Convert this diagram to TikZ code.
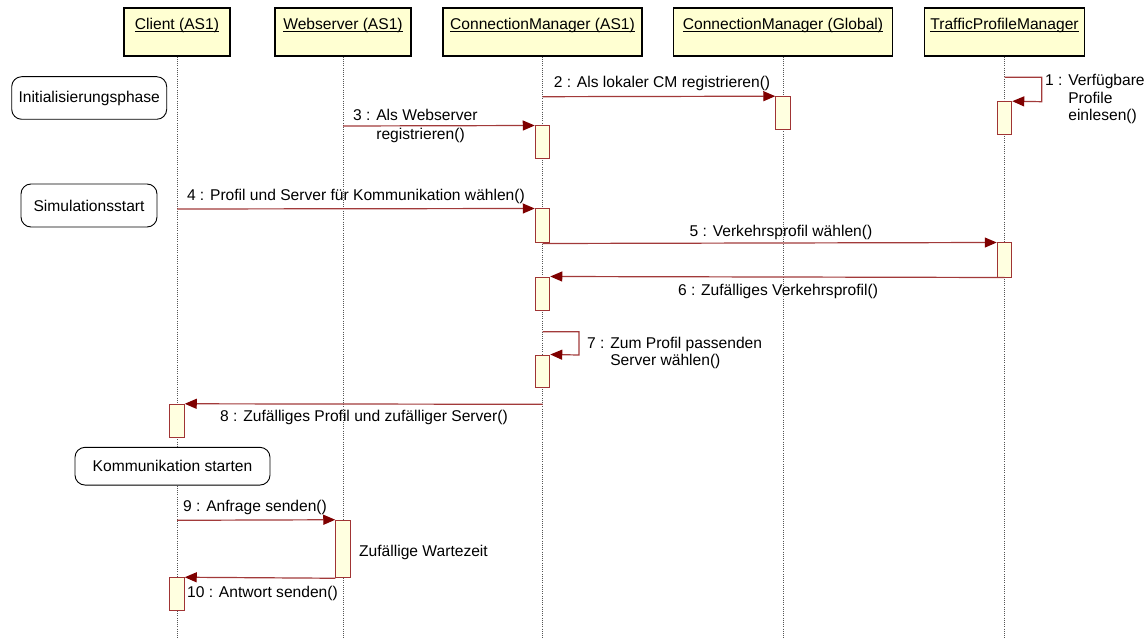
\documentclass[tikz,border=0pt]{standalone}
\usepackage{fontspec}
\setmainfont{Liberation Sans}
\usetikzlibrary{arrows.meta}

\definecolor{msgred}{HTML}{A23A3A}
\definecolor{tipred}{HTML}{7F0000}
\definecolor{headfill}{HTML}{FFFFD2}
\definecolor{actfill}{HTML}{FFFFE0}
\definecolor{actline}{HTML}{A03434}
\definecolor{lifegray}{HTML}{555555}

% underlined object name, rule just below the baseline
\newcommand{\ultext}[1]{\setbox0\hbox{#1}\rlap{\rule[-2.4pt]{\wd0}{0.8pt}}\box0}

\begin{document}
\begin{tikzpicture}[x=1pt,y=-1pt,
  every node/.style={font=\fontsize{15.6}{18}\selectfont, inner sep=0pt},
  headbox/.style={draw=black, line width=1.1pt, fill=headfill, minimum height=48pt},
  lifeline/.style={draw=lifegray, line width=0.6pt, dash pattern=on 1pt off 1.2pt},
  actbox/.style={draw=actline, line width=1pt, fill=actfill, minimum width=14.5pt},
  msg/.style={draw=msgred, line width=1.2pt,
    -{Triangle[length=12pt,width=10pt,color=tipred]}},
  state/.style={draw=black, line width=0.9pt, rounded corners=10pt, fill=white},
  lbl/.style={anchor=base west},
  clbl/.style={anchor=base},
]
\useasboundingbox (0,0) rectangle (1146,639);

% ---------- object headers ----------
\node[headbox, minimum width=106pt] (cl)  at (177,32)   {};
\node[headbox, minimum width=136pt] (ws)  at (343,32)   {};
\node[headbox, minimum width=199pt] (cma) at (542.5,32) {};
\node[headbox, minimum width=219pt] (cmg) at (783,32)   {};
\node[headbox, minimum width=160pt] (tpm) at (1004.5,32) {};

\node[clbl] (cl-t)  at (177,29.3)    {\ultext{Client (AS1)}};
\node[clbl] (ws-t)  at (343,29.3)    {\ultext{Webserver (AS1)}};
\node[clbl] (cma-t) at (542.5,29.3)  {\ultext{ConnectionManager (AS1)}};
\node[clbl] (cmg-t) at (783,29.3)    {\ultext{ConnectionManager (Global)}};
\node[clbl] (tpm-t) at (1004.5,29.3) {\ultext{TrafficProfileManager}};

% ---------- lifelines ----------
\coordinate (cl-end)  at (177,639);
\coordinate (ws-end)  at (343,639);
\coordinate (cma-end) at (542.5,639);
\coordinate (cmg-end) at (783,639);
\coordinate (tpm-end) at (1004.5,639);
\draw[lifeline] (cl.south)  -- (cl-end);
\draw[lifeline] (ws.south)  -- (ws-end);
\draw[lifeline] (cma.south) -- (cma-end);
\draw[lifeline] (cmg.south) -- (cmg-end);
\draw[lifeline] (tpm.south) -- (tpm-end);

% ---------- phase markers ----------
\node[state, minimum width=155pt, minimum height=42.6pt] (s1) at (89.2,98)    {Initialisierungsphase};
\node[state, minimum width=136pt, minimum height=43pt]   (s2) at (89,205.5)   {Simulationsstart};
\node[state, minimum width=195pt, minimum height=37.7pt] (s3) at (172.5,466.2) {Kommunikation starten};

% ---------- activation bars ----------
\node[actbox, minimum height=33.3pt] (a1)  at (1004.5,118.35) {};
\node[actbox, minimum height=32.6pt] (a2)  at (783,113)      {};
\node[actbox, minimum height=33pt]   (a3)  at (542.5,142.5)  {};
\node[actbox, minimum height=34pt]   (a4)  at (542.5,226)    {};
\node[actbox, minimum height=34pt]   (a5)  at (1004.5,260)   {};
\node[actbox, minimum height=33pt]   (a6)  at (542.5,293.5)  {};
\node[actbox, minimum height=32pt]   (a7)  at (542.5,371)    {};
\node[actbox, minimum height=33pt]   (a8)  at (177,420.8)    {};
\node[actbox, minimum height=57.5pt] (a9)  at (343,549)      {};
\node[actbox, minimum height=32.5pt] (a10) at (177,594)      {};

% ---------- message start points on the lifelines ----------
\coordinate (m1s) at (1004.5,77.3);
\coordinate (m1c) at (1041.7,101.7);
\coordinate (m2s) at (542.5,96.7);
\coordinate (m3s) at (343,126);
\coordinate (m4s) at (177,209);
\coordinate (m7s) at (542.5,331.7);
\coordinate (m7c) at (579,355);
\coordinate (m8s) at (542.5,404.3);
\coordinate (m9s) at (177,520.3);

% ---------- messages ----------
\draw[msg] (m1s) -| (m1c) -- (a1.north east);
\draw[msg] (m2s) -- (a2.north west);
\draw[msg] (m3s) -- (a3.north west);
\draw[msg] (m4s) -- (a4.north west);
\draw[msg] (a4.south) -- (a5.north west);
\draw[msg] (a5.south) -- (a6.north east);
\draw[msg] (m7s) -| (m7c) -- (a7.north east);
\draw[msg] (m8s) -- (a8.north east);
\draw[msg] (m9s) -- (a9.north west);
\draw[msg] (a9.south west) -- (a10.north east);

% ---------- message labels ----------
\node[lbl] (t1a) at (1045,85.7)  {1 : Verfügbare};
\node[lbl] (t1b) at (1045,103.2) {\hphantom{1 : }Profile};
\node[lbl] (t1c) at (1045,120.7) {\hphantom{1 : }einlesen()};
\node[lbl] (t2)  at (553.6,87.2) {2 : Als lokaler CM registrieren()};
\node[lbl] (t3a) at (353,120.7)  {3 : Als Webserver};
\node[lbl] (t3b) at (353,139.2)  {\hphantom{3 : }registrieren()};
\node[lbl] (t4)  at (186.8,200.7) {4 : Profil und Server für Kommunikation wählen()};
\node[clbl] (t5) at (781,236.7)  {5 : Verkehrsprofil wählen()};
\node[clbl] (t6) at (778,295)    {6 : Zufälliges Verkehrsprofil()};
\node[lbl] (t7a) at (587,348.3)  {7 : Zum Profil passenden};
\node[lbl] (t7b) at (587,365.8)  {\hphantom{7 : }Server wählen()};
\node[lbl] (t8)  at (220,421.7)  {8 : Zufälliges Profil und zufälliger Server()};
\node[lbl] (t9)  at (183,511)    {9 : Anfrage senden()};
\node[lbl] (tw)  at (359,556)    {Zufällige Wartezeit};
\node[lbl] (t10) at (187,597.3)  {10 : Antwort senden()};
\end{tikzpicture}
\end{document}
